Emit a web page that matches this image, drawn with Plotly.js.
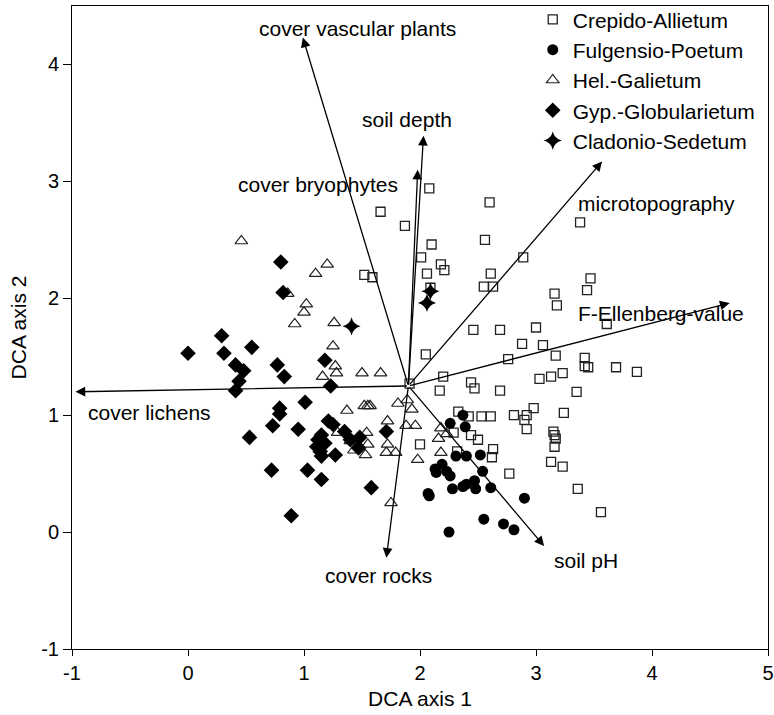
<!DOCTYPE html>
<html>
<head>
<meta charset="utf-8">
<script src="https://cdn.plot.ly/plotly-3.0.1.min.js"></script>
<style>html,body{margin:0;padding:0;background:#fff;}#chart{width:774px;height:715px;}</style>
</head>
<body>
<div id="chart"></div>
<script>
// Crepido-Allietum (open squares)
var crepidoX = [2.08,1.66,1.87,2.60,2.10,2.56,2.01,2.18,2.21,2.06,1.52,1.59,2.61,2.55,2.63,2.09,2.89,3.38,3.47,3.44,3.16,3.18,3.61,2.46,2.69,3.00,2.88,3.06,2.76,3.17,3.42,3.42,3.45,3.69,3.87,3.23,3.13,3.03,3.35,2.05,2.20,2.17,2.44,2.47,2.69,2.98,3.24,2.33,2.42,2.53,2.61,2.81,2.92,2.90,2.92,3.15,3.16,3.17,3.16,2.29,2.44,2.50,2.00,2.32,2.63,2.62,3.13,3.23,2.77,3.36,3.56,1.91];
var crepidoY = [2.94,2.74,2.62,2.82,2.46,2.50,2.35,2.29,2.24,2.21,2.20,2.18,2.21,2.10,2.10,2.09,2.35,2.65,2.17,2.07,2.04,1.94,1.78,1.73,1.73,1.75,1.61,1.60,1.48,1.51,1.49,1.42,1.41,1.41,1.37,1.36,1.33,1.31,1.20,1.52,1.33,1.21,1.28,1.23,1.21,1.06,1.02,1.03,0.99,0.99,0.99,1.00,1.00,0.96,0.88,0.86,0.83,0.80,0.73,0.85,0.83,0.79,0.75,0.69,0.71,0.64,0.60,0.56,0.50,0.37,0.17,1.27];
// Fulgensio-Poetum (filled circles)
var fulgX = [2.37,2.26,2.39,2.31,2.40,2.52,2.19,2.13,2.14,2.23,2.26,2.54,2.07,2.08,2.28,2.37,2.40,2.47,2.48,2.61,2.90,2.55,2.72,2.81,2.25];
var fulgY = [1.00,0.93,0.90,0.65,0.65,0.66,0.58,0.54,0.51,0.52,0.48,0.52,0.33,0.31,0.37,0.39,0.41,0.44,0.37,0.38,0.29,0.11,0.07,0.02,0.00];
// Hel.-Galietum (open triangles)
var helX = [0.46,1.20,1.10,0.86,1.02,1.00,0.92,1.26,1.25,1.27,1.28,1.16,1.50,1.66,1.37,1.52,1.55,1.57,1.81,1.89,1.93,1.72,1.88,1.96,1.29,1.54,1.40,1.43,1.55,1.53,1.72,1.71,1.79,1.98,2.18,2.16,2.18,2.23,1.75];
var helY = [2.49,2.29,2.21,2.04,1.95,1.88,1.78,1.79,1.59,1.42,1.36,1.33,1.36,1.36,1.04,1.08,1.08,1.08,1.10,1.13,1.05,0.95,0.91,0.91,0.85,0.85,0.78,0.70,0.75,0.66,0.75,0.68,0.68,0.62,0.89,0.80,0.68,0.84,0.25];
// Gyp.-Globularietum (filled diamonds)
var gypX = [0.00,0.29,0.31,0.55,0.41,0.48,0.44,0.41,0.80,0.82,0.77,0.83,1.18,1.23,1.01,0.79,0.79,0.73,0.53,0.95,0.72,1.03,1.15,0.89,1.58,1.21,1.25,1.35,1.15,1.12,1.18,1.11,1.14,1.15,1.27,1.40,1.48,1.47,1.71];
var gypY = [1.53,1.68,1.53,1.58,1.43,1.38,1.29,1.21,2.31,2.05,1.43,1.33,1.47,1.25,1.11,1.06,1.01,0.91,0.81,0.88,0.53,0.53,0.45,0.14,0.38,0.95,0.92,0.86,0.83,0.79,0.76,0.73,0.69,0.65,0.66,0.79,0.81,0.72,0.86];
// Cladonio-Sedetum (stars)
var cladX = [2.09,2.06,1.41];
var cladY = [2.06,1.96,1.76];

// Environmental vectors
var vecOriginX = 1.90, vecOriginY = 1.25;
var vecNames = ["cover vascular plants","soil depth","cover bryophytes","microtopography","F-Ellenberg-value","cover lichens","cover rocks","soil pH"];
var vecTipX = [0.99,2.03,1.98,3.57,4.67,-0.97,1.71,3.07];
var vecTipY = [4.23,3.39,3.10,3.17,1.96,1.20,-0.22,-0.12];
var vecLabelX = [1.46,1.89,1.12,4.04,4.08,-0.33,1.64,3.43];
var vecLabelY = [4.31,3.53,2.97,2.81,1.87,1.02,-0.37,-0.24];

var xTicks = [-1,0,1,2,3,4,5];
var yTicks = [-1,0,1,2,3,4];

var FONT = 'Liberation Sans, Arial, sans-serif';

var traces = [
  {x: crepidoX, y: crepidoY, name: 'Crepido-Allietum', mode: 'markers', type: 'scatter',
   marker: {symbol: 'square-open', size: 9, color: '#222', line: {width: 1.3, color: '#222'}}},
  {x: fulgX, y: fulgY, name: 'Fulgensio-Poetum', mode: 'markers', type: 'scatter',
   marker: {symbol: 'circle', size: 11, color: '#000'}},
  {x: helX, y: helY, name: 'Hel.-Galietum', mode: 'markers', type: 'scatter',
   marker: {symbol: 'triangle-up-open', size: 11, color: '#222', line: {width: 1.2, color: '#222'}}},
  {x: gypX, y: gypY, name: 'Gyp.-Globularietum', mode: 'markers', type: 'scatter',
   marker: {symbol: 'diamond', size: 12, color: '#000'}},
  {x: cladX, y: cladY, name: 'Cladonio-Sedetum', mode: 'markers', type: 'scatter',
   marker: {symbol: 'star-diamond', size: 13, color: '#000'}}
];

var annotations = [];
for (var i = 0; i < vecNames.length; i++) {
  annotations.push({
    x: vecTipX[i], y: vecTipY[i], xref: 'x', yref: 'y',
    ax: vecOriginX, ay: vecOriginY, axref: 'x', ayref: 'y',
    showarrow: true, arrowhead: 2, arrowsize: 1.5, arrowwidth: 1.3, arrowcolor: '#000',
    text: ''
  });
  annotations.push({
    x: vecLabelX[i], y: vecLabelY[i], xref: 'x', yref: 'y',
    showarrow: false, text: vecNames[i],
    font: {family: FONT, size: 21, color: '#000'}
  });
}

var layout = {
  width: 774, height: 715,
  margin: {l: 72, r: 6, t: 6, b: 66, autoexpand: false},
  paper_bgcolor: '#fff', plot_bgcolor: '#fff',
  font: {family: FONT, color: '#000'},
  showlegend: true,
  legend: {x: 0.662, y: 1.0105, xanchor: 'left', yanchor: 'top', bgcolor: 'rgba(0,0,0,0)',
           font: {family: FONT, size: 21, color: '#000'}, tracegroupgap: 0},
  xaxis: {range: [-1, 5], tickvals: xTicks, ticktext: xTicks.map(String), showgrid: false, zeroline: false,
          showline: true, mirror: true, linecolor: '#000', linewidth: 1, ticks: 'outside', ticklen: 6, tickcolor: '#000',
          tickfont: {family: FONT, size: 20}, title: {text: 'DCA axis 1', font: {family: FONT, size: 21}, standoff: 8}},
  yaxis: {range: [-1, 4.5], tickvals: yTicks, ticktext: yTicks.map(String), showgrid: false, zeroline: false,
          showline: true, mirror: true, linecolor: '#000', linewidth: 1, ticks: 'outside', ticklen: 8, tickcolor: '#000',
          tickfont: {family: FONT, size: 20}, title: {text: 'DCA axis 2', font: {family: FONT, size: 21}, standoff: 8}},
  annotations: annotations
};

Plotly.newPlot('chart', traces, layout, {displayModeBar: false, staticPlot: true});
</script>
</body>
</html>
